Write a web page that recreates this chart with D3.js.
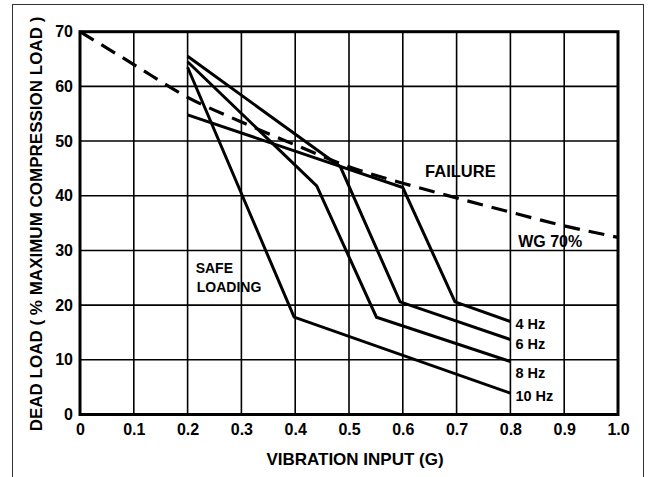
<!DOCTYPE html>
<html>
<head>
<meta charset="utf-8">
<script src="https://cdn.jsdelivr.net/npm/d3@7"></script>
<style>
  html, body { margin: 0; padding: 0; background: #fff; }
  svg { display: block; }
  text { font-family: "Liberation Sans", Arial, Helvetica, sans-serif; font-weight: bold; fill: #000; }
</style>
</head>
<body>
<svg id="chart" width="651" height="477"></svg>
<script>
// ---- data ----
const xTickValues = [0, 0.1, 0.2, 0.3, 0.4, 0.5, 0.6, 0.7, 0.8, 0.9, 1.0];
const xTickLabels = ["0", "0.1", "0.2", "0.3", "0.4", "0.5", "0.6", "0.7", "0.8", "0.9", "1.0"];
const yTickValues = [0, 10, 20, 30, 40, 50, 60, 70];
const yTickLabels = ["0", "10", "20", "30", "40", "50", "60", "70"];

const failureX = [0, 0.1, 0.2, 0.3, 0.4, 0.5, 0.6, 0.7, 0.8, 0.9, 1.0];
const failureY = [70, 64, 58, 53.5, 49.3, 45.3, 42.3, 39.6, 37.0, 34.5, 32.4];

const seriesNames = ["4 Hz", "6 Hz", "8 Hz", "10 Hz"];
const hz4X = [0.2, 0.6, 0.697, 0.8];
const hz4Y = [54.8, 41.5, 20.6, 17.0];
const hz6X = [0.2, 0.484, 0.595, 0.8];
const hz6Y = [65.5, 45.3, 20.6, 13.7];
const hz8X = [0.2, 0.44, 0.551, 0.8];
const hz8Y = [64.5, 41.8, 17.8, 9.7];
const hz10X = [0.2, 0.398, 0.8];
const hz10Y = [63.5, 17.8, 3.9];

const xTitle = "VIBRATION INPUT (G)";
const yTitle = "DEAD LOAD ( % MAXIMUM COMPRESSION LOAD )";

// ---- drawing ----
const svg = d3.select("#chart");
const mL = 80, mR = 618, mT = 31.7, mB = 414.5;

const x = d3.scaleLinear().domain([0, 1]).range([mL, mR]);
const y = d3.scaleLinear().domain([0, 70]).range([mB, mT]);

// outer frame
svg.append("rect")
  .attr("x", 12.5).attr("y", 4.5).attr("width", 631).attr("height", 480)
  .attr("fill", "none").attr("stroke", "#333").attr("stroke-width", 1);

// grid
const grid = svg.append("g");
grid.selectAll("line.v").data(xTickValues).join("line").attr("class", "v")
  .attr("x1", d => x(d)).attr("x2", d => x(d))
  .attr("y1", mT).attr("y2", mB)
  .attr("stroke", "#000").attr("stroke-width", 1.6);
grid.selectAll("line.h").data(yTickValues).join("line").attr("class", "h")
  .attr("x1", mL).attr("x2", mR)
  .attr("y1", d => y(d)).attr("y2", d => y(d))
  .attr("stroke", "#000").attr("stroke-width", 1.6);

// plot border
svg.append("rect")
  .attr("x", mL).attr("y", mT).attr("width", mR - mL).attr("height", mB - mT)
  .attr("fill", "none").attr("stroke", "#000").attr("stroke-width", 3);

// axes (labels only)
const xAxis = d3.axisBottom(x).tickValues(xTickValues)
  .tickFormat((d, i) => xTickLabels[i]).tickSize(0).tickPadding(9);
const gx = svg.append("g").attr("transform", `translate(0,${mB})`).call(xAxis);
gx.select(".domain").remove();
gx.selectAll("text").attr("font-size", 16).attr("font-family", null).attr("fill", "#000")
  .style("font-weight", "bold");

const yAxis = d3.axisLeft(y).tickValues(yTickValues)
  .tickFormat((d, i) => yTickLabels[i]).tickSize(0).tickPadding(7);
const gy = svg.append("g").attr("transform", `translate(${mL},0)`).call(yAxis);
gy.select(".domain").remove();
gy.selectAll("text").attr("font-size", 16).attr("font-family", null).attr("fill", "#000")
  .style("font-weight", "bold");

// failure dashed line
const failLine = d3.line().x(d => x(d[0])).y(d => y(d[1])).curve(d3.curveMonotoneX);
svg.append("path")
  .datum(failureX.map((v, i) => [v, failureY[i]]))
  .attr("d", failLine)
  .attr("fill", "none").attr("stroke", "#000").attr("stroke-width", 3.2)
  .attr("stroke-dasharray", "16,9");

// series lines
const seriesX = [hz4X, hz6X, hz8X, hz10X];
const seriesY = [hz4Y, hz6Y, hz8Y, hz10Y];
const lineLin = d3.line().x(d => x(d[0])).y(d => y(d[1]));
seriesX.forEach((xs, k) => {
  svg.append("path")
    .datum(xs.map((v, i) => [v, seriesY[k][i]]))
    .attr("d", lineLin)
    .attr("fill", "none").attr("stroke", "#000").attr("stroke-width", 3)
    .attr("stroke-linejoin", "miter");
});

// series labels at line ends
const labelDy = [7, 9, 17, 8];
seriesNames.forEach((name, k) => {
  const xs = seriesX[k], ys = seriesY[k];
  svg.append("text")
    .attr("x", x(xs[xs.length - 1]) + 5)
    .attr("y", y(ys[ys.length - 1]) + labelDy[k])
    .attr("font-size", 14.5)
    .text(name);
});

// annotations
svg.append("text").attr("x", x(0.707)).attr("y", y(43.4))
  .attr("text-anchor", "middle").attr("font-size", 16.5).text("FAILURE");
svg.append("text").attr("x", x(0.874)).attr("y", y(30.7))
  .attr("text-anchor", "middle").attr("font-size", 16).text("WG 70%");
svg.append("text").attr("x", x(0.215)).attr("y", y(25.8))
  .attr("font-size", 14).text("SAFE");
svg.append("text").attr("x", x(0.217)).attr("y", y(22.4))
  .attr("font-size", 14).text("LOADING");

// axis titles
svg.append("text").attr("x", (mL + mR) / 2 + 6).attr("y", 465)
  .attr("text-anchor", "middle").attr("font-size", 17).text(xTitle);
svg.append("text")
  .attr("transform", `translate(42,224) rotate(-90)`)
  .attr("text-anchor", "middle").attr("font-size", 17).text(yTitle);
</script>
</body>
</html>
